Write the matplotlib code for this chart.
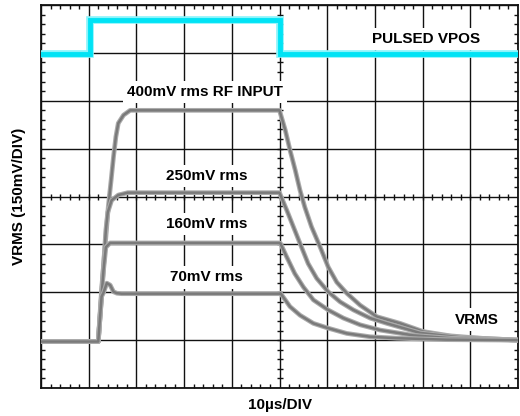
import matplotlib.pyplot as plt
import numpy as np
from matplotlib.ticker import MultipleLocator

plt.rcParams["font.family"] = ["Liberation Sans", "DejaVu Sans"]

# time in divisions (10us/DIV), level in divisions (150mV/DIV)
t_vpos = [0, 1.02, 1.02, 5.02, 5.02, 10]
v_vpos = [6.97, 6.97, 7.69, 7.69, 6.97, 6.97]

t_400 = [0, 1.20, 1.27, 1.36, 1.41, 1.47, 1.52, 1.57, 1.62, 1.73, 1.87, 5.0, 5.02, 5.12, 5.22,
         5.33, 5.43, 5.53, 5.67, 5.85, 6.02, 6.20, 6.41, 6.69, 7.04, 7.53, 8.01, 8.57, 9.20, 10]
v_400 = [0.97, 0.97, 2.05, 3.16, 3.78, 4.34, 4.83, 5.25, 5.53, 5.70, 5.80, 5.80, 5.73, 5.39, 4.97,
         4.55, 4.13, 3.78, 3.37, 2.95, 2.53, 2.21, 1.98, 1.73, 1.49, 1.35, 1.18, 1.09, 1.04, 1.0]

t_250 = [0, 1.20, 1.31, 1.36, 1.40, 1.48, 1.62, 1.82, 5.0, 5.02, 5.15, 5.29, 5.43, 5.60, 5.78,
         6.02, 6.27, 6.55, 6.90, 7.25, 7.95, 8.78, 10]
v_250 = [0.97, 0.97, 2.53, 3.30, 3.67, 3.92, 4.03, 4.08, 4.08, 4.03, 3.72, 3.37, 3.02, 2.60, 2.29,
         2.01, 1.80, 1.63, 1.46, 1.35, 1.15, 1.06, 1.0]

t_160 = [0, 1.20, 1.31, 1.36, 1.45, 5.0, 5.02, 5.15, 5.32, 5.50, 5.71, 6.02, 6.34, 6.69, 7.11,
         7.8, 8.6, 10]
v_160 = [0.97, 0.97, 2.46, 2.94, 3.03, 3.03, 3.02, 2.74, 2.39, 2.11, 1.84, 1.63, 1.46, 1.32, 1.21,
         1.10, 1.04, 1.0]

t_70 = [0, 1.20, 1.27, 1.31, 1.38, 1.45, 1.52, 1.59, 1.69, 5.0, 5.02, 5.22, 5.43, 5.71, 6.02,
        6.41, 6.90, 7.46, 8.5, 10]
v_70 = [0.97, 0.97, 1.91, 1.99, 2.19, 2.15, 2.01, 1.98, 1.97, 1.97, 1.98, 1.70, 1.52, 1.35, 1.25,
        1.14, 1.07, 1.04, 1.01, 1.0]

labels = ["PULSED VPOS", "400mV rms RF INPUT", "250mV rms", "160mV rms", "70mV rms", "VRMS"]
label_t = [8.08, 3.43, 3.47, 3.47, 3.47, 9.13]
label_v = [7.29, 6.19, 4.43, 3.42, 2.31, 1.43]


def main():
    fig = plt.figure(figsize=(5.2, 4.16), dpi=100)
    ax = fig.add_axes([41 / 520, 28 / 416, 477 / 520, 383 / 416])
    ax.set_xlim(0, 10)
    ax.set_ylim(0, 8)

    # graticule
    ax.xaxis.set_major_locator(MultipleLocator(1))
    ax.yaxis.set_major_locator(MultipleLocator(1))
    ax.xaxis.set_minor_locator(MultipleLocator(0.2))
    ax.yaxis.set_minor_locator(MultipleLocator(0.2))
    ax.grid(True, which="major", color="#111111", linewidth=1.0, zorder=1)
    ax.set_axisbelow(True)
    ax.tick_params(which="both", direction="in", top=True, right=True,
                   labelbottom=False, labelleft=False, color="#111111")
    ax.tick_params(which="minor", length=3, width=1.0)
    ax.tick_params(which="major", length=0)
    for s in ax.spines.values():
        s.set_linewidth(1.3)
        s.set_color("#111111")

    marks = np.arange(0.2, 8, 0.2)
    ax.plot(np.full(len(marks), 5.0), marks, ls="none", marker="_", ms=5, mew=1.0,
            color="#111111", zorder=1.5)
    marks = np.arange(0.2, 10, 0.2)
    ax.plot(marks, np.full(len(marks), 4.0), ls="none", marker="|", ms=5, mew=1.0,
            color="#111111", zorder=1.5)

    # traces
    ax.plot(t_vpos, v_vpos, color="#8af4fb", linewidth=5.5, zorder=4, solid_joinstyle="miter")
    ax.plot(t_vpos, v_vpos, color="#00e3f5", linewidth=3.5, zorder=4, solid_joinstyle="miter")
    for t, v in [(t_400, v_400), (t_250, v_250), (t_160, v_160), (t_70, v_70)]:
        ax.plot(t, v, color="#ababab", linewidth=3.4, zorder=4)
        ax.plot(t, v, color="#7a7a7a", linewidth=1.8, zorder=4)

    for s, x, y in zip(labels, label_t, label_v):
        ax.text(x, y, s, ha="center", va="center", fontsize=11, fontweight="bold",
                bbox=dict(facecolor="white", edgecolor="none", pad=3), zorder=3)

    fig.text(19 / 520, 1 - 196 / 416, "VRMS (150mV/DIV)", rotation=90, ha="center",
             va="center", fontsize=11, fontweight="bold")
    fig.text(280 / 520, 1 - 405 / 416, "10µs/DIV", ha="center", va="center",
             fontsize=11, fontweight="bold")

    fig.savefig("out.png", dpi=100)


if __name__ == "__main__":
    main()
